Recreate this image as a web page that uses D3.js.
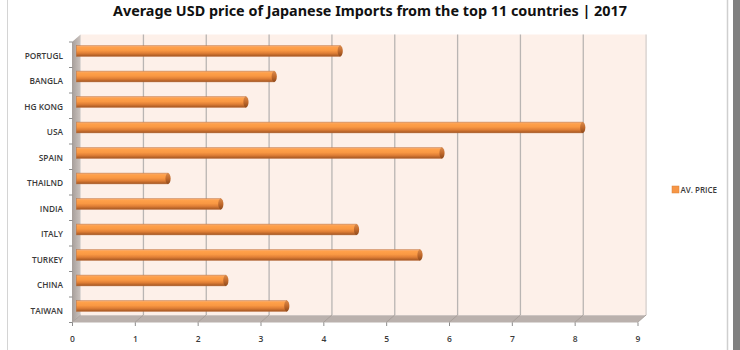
<!DOCTYPE html>
<html>
<head>
<meta charset="utf-8">
<script src="https://cdnjs.cloudflare.com/ajax/libs/d3/7.8.5/d3.min.js"></script>
<style>
  body { margin: 0; background: #fff; }
  svg { display: block; }
</style>
</head>
<body>
<div id="wrapper"></div>
<script>
// data
const categories = ['PORTUGL', 'BANGLA', 'HG KONG', 'USA', 'SPAIN', 'THAILND', 'INDIA', 'ITALY', 'TURKEY', 'CHINA', 'TAIWAN'];
const avPrice = [4.2, 3.15, 2.7, 8.06, 5.82, 1.46, 2.3, 4.46, 5.47, 2.38, 3.35];
const xTicks = [0, 1, 2, 3, 4, 5, 6, 7, 8, 9];
const seriesName = 'AV. PRICE';
const title = 'Average USD price of Japanese Imports from the top 11 countries | 2017';

const width = 740, height = 350;

// 3d look: back wall shifted up/right from the front plane
const depthX = 8.6, depthY = 7.5;
const front = { left: 72, right: 637.5, top: 42, bottom: 322.5 };

const xFront = d3.scaleLinear().domain([0, 9]).range([front.left, front.right]);
const xBack = d3.scaleLinear().domain([0, 9]).range([front.left + depthX, front.right + depthX]);
const xMid = d3.scaleLinear().domain([0, 9]).range([front.left + depthX / 2, front.right + depthX / 2]);

const yFront = d3.scaleBand().domain(categories).range([front.top, front.bottom]);
const yMid = d3.scaleBand().domain(categories).range([front.top - depthY / 2, front.bottom - depthY / 2]);
const backTop = front.top - depthY, backBottom = front.bottom - depthY;

const svg = d3.select('#wrapper').append('svg').attr('width', width).attr('height', height);

const defs = svg.append('defs');
const barGrad = defs.append('linearGradient').attr('id', 'barGrad').attr('x1', 0).attr('y1', 0).attr('x2', 0).attr('y2', 1);
[[0, '#f4ad78'], [0.18, '#ffa049'], [0.45, '#f99843'], [0.7, '#e07f36'], [1, '#a25522']].forEach(s =>
  barGrad.append('stop').attr('offset', s[0]).attr('stop-color', s[1]));
const capGrad = defs.append('linearGradient').attr('id', 'capGrad').attr('x1', 0).attr('y1', 0).attr('x2', 0).attr('y2', 1);
[[0, '#d98a4c'], [0.5, '#c26a2c'], [1, '#8f4a1c']].forEach(s =>
  capGrad.append('stop').attr('offset', s[0]).attr('stop-color', s[1]));
const wallGrad = defs.append('linearGradient').attr('id', 'wallGrad').attr('x1', 0).attr('y1', 0).attr('x2', 1).attr('y2', 0);
[[0, '#a69e9a'], [1, '#cbc3bf']].forEach(s =>
  wallGrad.append('stop').attr('offset', s[0]).attr('stop-color', s[1]));

// frame
svg.append('line').attr('x1', 7.5).attr('x2', 7.5).attr('y1', 0).attr('y2', height).attr('stroke', '#d4d4d4');
svg.append('line').attr('x1', 727.5).attr('x2', 727.5).attr('y1', 0).attr('y2', height).attr('stroke', '#cfcfcf').attr('stroke-width', 1.5);
svg.append('rect').attr('x', 733).attr('y', 0).attr('width', 7).attr('height', height).attr('fill', '#808080');

// title
svg.append('text')
  .attr('x', 370).attr('y', 16)
  .attr('text-anchor', 'middle')
  .attr('font-family', 'Noto Sans, sans-serif')
  .attr('font-weight', 'bold')
  .attr('font-size', 14)
  .attr('fill', '#111')
  .attr('textLength', 514)
  .attr('lengthAdjust', 'spacingAndGlyphs')
  .text(title);

// back wall
svg.append('rect')
  .attr('x', xBack(0)).attr('y', backTop)
  .attr('width', xBack(9) - xBack(0)).attr('height', backBottom - backTop)
  .attr('fill', '#fdf0e9');

svg.append('g')
  .selectAll('line')
  .data(xTicks.slice(1))
  .enter()
  .append('line')
  .attr('x1', d => xBack(d)).attr('x2', d => xBack(d))
  .attr('y1', backTop).attr('y2', backBottom)
  .attr('stroke', d => d === 9 ? '#d6cfcc' : '#b9b5b3')
  .attr('stroke-width', 1.3);

// left side wall
svg.append('path')
  .attr('d', `M${xFront(0)},${front.top} L${xBack(0)},${backTop} L${xBack(0)},${backBottom} L${xFront(0)},${front.bottom} Z`)
  .attr('fill', 'url(#wallGrad)');

// floor
svg.append('path')
  .attr('d', `M${xFront(0)},${front.bottom} L${xBack(0)},${backBottom} L${xBack(9)},${backBottom} L${xFront(9)},${front.bottom} Z`)
  .attr('fill', '#bab1ad');
svg.append('line')
  .attr('x1', xBack(0)).attr('x2', xBack(9)).attr('y1', backBottom + 0.5).attr('y2', backBottom + 0.5)
  .attr('stroke', '#cdc5c2');
svg.append('g')
  .selectAll('line')
  .data(xTicks)
  .enter()
  .append('line')
  .attr('x1', d => xBack(d)).attr('y1', backBottom)
  .attr('x2', d => xFront(d)).attr('y2', front.bottom)
  .attr('stroke', '#a39a96')
  .attr('stroke-width', 0.8);

// bars (cylinders)
const barH = 10.8;
const bars = svg.append('g')
  .selectAll('g')
  .data(categories.map((c, i) => ({ c, v: avPrice[i] })))
  .enter()
  .append('g');

bars.append('rect')
  .attr('x', xMid(0))
  .attr('y', d => yMid(d.c) + yMid.bandwidth() / 2 - barH / 2)
  .attr('width', d => xMid(d.v) - xMid(0))
  .attr('height', barH)
  .attr('fill', 'url(#barGrad)')
  .attr('stroke', '#b86a34')
  .attr('stroke-opacity', 0.7)
  .attr('stroke-width', 0.6);

bars.append('ellipse')
  .attr('cx', d => xMid(d.v))
  .attr('cy', d => yMid(d.c) + yMid.bandwidth() / 2)
  .attr('rx', 2.6)
  .attr('ry', barH / 2)
  .attr('fill', 'url(#capGrad)');

// category axis (front plane)
const yAxis = svg.append('g')
  .attr('transform', `translate(${front.left},1.5)`)
  .call(d3.axisLeft(yFront).tickSize(0).tickPadding(9));
yAxis.select('.domain').remove();
yAxis.selectAll('text')
  .attr('font-family', 'Open Sans, sans-serif')
  .attr('font-size', 8.3)
  .attr('font-weight', 600)
  .attr('fill', '#3a3a3a');

svg.append('g')
  .selectAll('line')
  .data(categories.map(c => yFront(c)).concat([front.bottom]))
  .enter()
  .append('line')
  .attr('x1', front.left - 3).attr('x2', front.left + 0.5)
  .attr('y1', d => d).attr('y2', d => d)
  .attr('stroke', '#8c8c8c');

// value axis (front plane)
const xAxis = svg.append('g')
  .attr('transform', `translate(0,${front.bottom})`)
  .call(d3.axisBottom(xFront).tickValues(xTicks).tickSize(3.5).tickPadding(10));
xAxis.select('.domain').remove();
xAxis.selectAll('line').attr('stroke', '#8c8c8c');
xAxis.selectAll('text')
  .attr('font-family', 'Open Sans, sans-serif')
  .attr('font-size', 8.5)
  .attr('font-weight', 600)
  .attr('fill', '#3a3a3a');

// legend
const legend = svg.append('g').attr('transform', 'translate(672,186)');
legend.append('rect').attr('width', 7).attr('height', 7).attr('fill', '#f79646').attr('stroke', '#d7803a').attr('stroke-width', 0.5);
legend.append('text')
  .attr('x', 8.5).attr('y', 6.5)
  .attr('font-family', 'Open Sans, sans-serif')
  .attr('font-size', 8)
  .attr('font-weight', 600)
  .attr('fill', '#3a3a3a')
  .text(seriesName);
</script>
</body>
</html>
